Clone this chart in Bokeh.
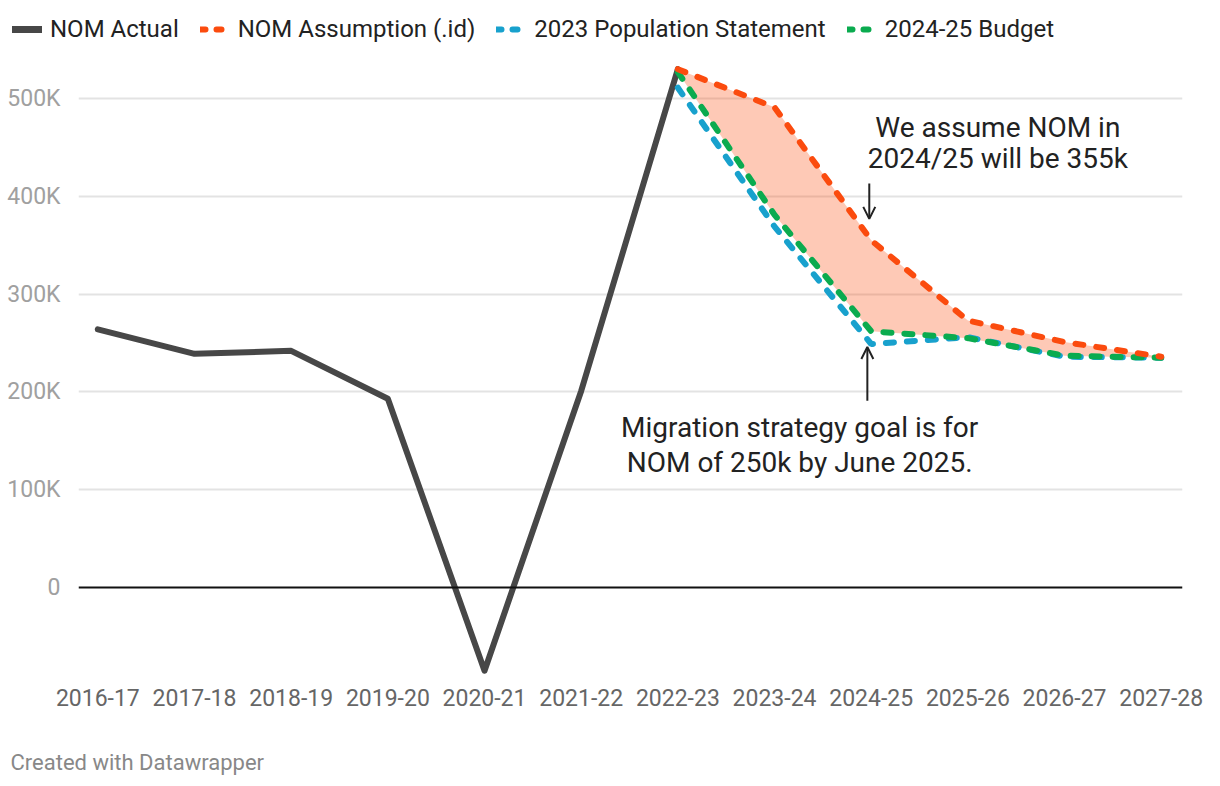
from bokeh.plotting import figure
from bokeh.layouts import column
from bokeh.models import (Range1d, FixedTicker, Span, Legend, LegendItem, Arrow,
                          OpenHead, Label, ColumnDataSource)
from bokeh.core.properties import value
from bokeh.embed import file_html
from bokeh.resources import INLINE

years = ["2016-17", "2017-18", "2018-19", "2019-20", "2020-21", "2021-22",
         "2022-23", "2023-24", "2024-25", "2025-26", "2026-27", "2027-28"]
actual = [264000, 239000, 242000, 193000, -85000, 201000, 530000]
nom_id = [530000, 491000, 355000, 273000, 251000, 236000]
pop_statement = [511000, 369000, 249000, 256000, 236000, 235000]
budget = [527000, 381000, 262000, 255000, 237000, 235000]
y_ticks = [0, 100000, 200000, 300000, 400000, 500000]
y_tick_labels = ["0", "100K", "200K", "300K", "400K", "500K"]
series_names = ["NOM Actual", "NOM Assumption (.id)",
                "2023 Population Statement", "2024-25 Budget"]

FONT = "Roboto"
RED = "#fb4b0e"
BLUE = "#18a1cd"
GREEN = "#0aab4f"
GREY = "#474747"
DASH = "8 13"

idx_all = list(range(len(years)))
idx_act = idx_all[:len(actual)]
idx_fc = idx_all[len(actual) - 1:]


def strip(h):
    f = figure(width=1220, height=h, output_backend="svg", toolbar_location=None,
               x_range=Range1d(0, 1), y_range=Range1d(0, 1), min_border=0,
               min_border_left=0, min_border_right=0, min_border_top=0,
               min_border_bottom=0, x_axis_type=None, y_axis_type=None,
               outline_line_color=None)
    f.grid.visible = False
    f.frame_align = False
    return f


# ---------- legend strip ----------
lg = strip(55)
styles = [dict(line_color=GREY, line_width=7, line_cap="round"),
          dict(line_color=RED, line_width=6, line_dash="5 11", line_cap="round"),
          dict(line_color=BLUE, line_width=6, line_dash="5 11", line_cap="round"),
          dict(line_color=GREEN, line_width=6, line_dash="5 11", line_cap="round")]
items = []
for name, st in zip(series_names, styles):
    # placeholder renderer lying outside the strip's visible range
    r = lg.line(x=[5, 6], y=[5, 5], **st)
    items.append(LegendItem(label=name, renderers=[r]))
legend = Legend(items=items, orientation="horizontal", location=(12, 12),
                label_text_font=FONT, label_text_font_size="24px",
                label_text_color="#222222", glyph_width=30, label_standoff=8,
                spacing=21, padding=0, margin=0, border_line_color=None,
                background_fill_alpha=0)
lg.add_layout(legend, "center")

# ---------- main chart ----------
p = figure(width=1220, height=681, output_backend="svg", toolbar_location=None,
           x_range=Range1d(-0.2, 11.22), y_range=Range1d(-92000, 544000),
           min_border_left=78, min_border_right=38, min_border_top=0,
           min_border_bottom=59, outline_line_color=None)
p.frame_align = False

p.xaxis.ticker = FixedTicker(ticks=idx_all)
p.xaxis.major_label_overrides = {i: y for i, y in enumerate(years)}
p.yaxis.ticker = FixedTicker(ticks=y_ticks)
p.yaxis.major_label_overrides = {t: l for t, l in zip(y_ticks, y_tick_labels)}
for ax in (p.xaxis, p.yaxis):
    ax.axis_line_color = None
    ax.major_tick_line_color = None
    ax.minor_tick_line_color = None
    ax.major_label_text_font = FONT
    ax.major_label_text_font_size = "23px"
p.xaxis.major_label_text_color = "#666666"
p.yaxis.major_label_text_color = "#a0a0a0"
p.xaxis.major_label_standoff = 5
p.yaxis.major_label_standoff = 12

p.xgrid.grid_line_color = None
p.ygrid.ticker = FixedTicker(ticks=y_ticks[1:])
p.ygrid.grid_line_color = "#e3e3e3"
p.ygrid.grid_line_width = 2

p.add_layout(Span(location=0, dimension="width", line_color="#111111", line_width=2))

p.varea(x=idx_fc, y1=budget, y2=nom_id, fill_color=RED, fill_alpha=0.3)

p.line(idx_act, actual, line_color=GREY, line_width=6, line_cap="round",
       line_join="round")
p.line(idx_fc, pop_statement, line_color=BLUE, line_width=6, line_dash=DASH,
       line_cap="round")
p.line(idx_fc, budget, line_color=GREEN, line_width=6, line_dash=DASH,
       line_cap="round")
p.line(idx_fc, nom_id, line_color=RED, line_width=6, line_dash=DASH,
       line_cap="round")

ann1 = ColumnDataSource(dict(x=[9.31, 9.31], y=[470000, 439000],
                             t=["We assume NOM in", "2024/25 will be 355k"]))
p.text(x="x", y="y", text="t", source=ann1, text_font=value(FONT),
       text_font_size="28px", text_color="#222222", text_align="center",
       text_baseline="middle")
ann2 = ColumnDataSource(dict(x=[7.26, 7.26], y=[164000, 128000],
                             t=["Migration strategy goal is for",
                                "NOM of 250k by June 2025."]))
p.text(x="x", y="y", text="t", source=ann2, text_font=value(FONT),
       text_font_size="28px", text_color="#222222", text_align="center",
       text_baseline="middle")

p.add_layout(Arrow(x_start=7.98, y_start=413000, x_end=7.98, y_end=377000,
                   line_color="#222222", line_width=2,
                   end=OpenHead(size=12, line_color="#222222", line_width=2)))
p.add_layout(Arrow(x_start=7.96, y_start=191000, x_end=7.96, y_end=246000,
                   line_color="#222222", line_width=2,
                   end=OpenHead(size=12, line_color="#222222", line_width=2)))

# ---------- footer strip ----------
ft = strip(50)
ft.add_layout(Label(x=10, y=24, x_units="screen", y_units="screen",
                    text="Created with Datawrapper", text_font=FONT,
                    text_font_size="22px", text_color="#888888",
                    text_baseline="middle", text_align="left"))

layout = column(lg, p, ft, spacing=0)
open("out.html", "w").write(file_html(layout, INLINE))
